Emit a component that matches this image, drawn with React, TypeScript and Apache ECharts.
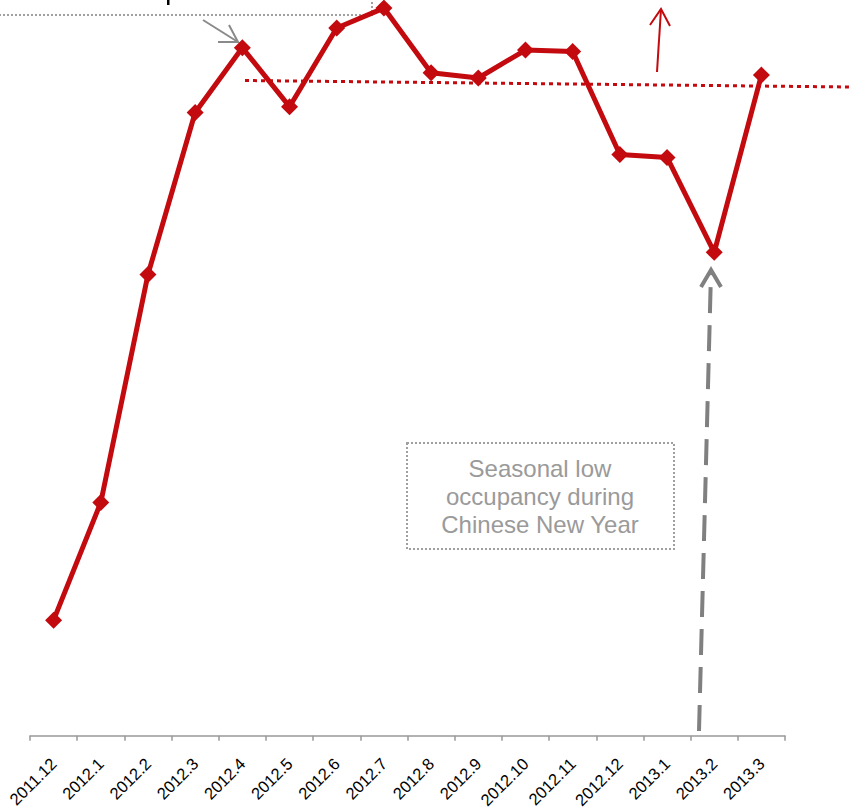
import React, { useEffect, useRef } from "react";
import * as echarts from "echarts";

const categories = [
  "2011.12", "2012.1", "2012.2", "2012.3", "2012.4", "2012.5", "2012.6", "2012.7",
  "2012.8", "2012.9", "2012.10", "2012.11", "2012.12", "2013.1", "2013.2", "2013.3",
];
const occupancy = [
  15.7, 31.7, 62.7, 84.7, 93.5, 85.5, 96.2, 98.9,
  90.1, 89.4, 93.2, 93.0, 79.0, 78.6, 65.7, 89.8,
];
const noteText = ["Seasonal low", "occupancy during", "Chinese New Year"];

const RED = "#C30A0F";
const GRAY = "#8a8a8a";

export default function App() {
  const ref = useRef<HTMLDivElement>(null);
  useEffect(() => {
    if (!ref.current) return;
    const chart = echarts.init(ref.current, null, { renderer: "svg" });
    chart.setOption({
      animation: false,
      grid: { left: 30, right: 64, top: 0, bottom: 73 },
      xAxis: {
        type: "category",
        data: categories,
        boundaryGap: true,
        axisLine: { lineStyle: { color: "#999", width: 1.5 } },
        axisTick: { show: true, length: 5, interval: 0, lineStyle: { color: "#999", width: 1.5 } },
        axisLabel: {
          rotate: 45,
          color: "#000",
          fontFamily: "Liberation Sans, Arial, sans-serif",
          fontSize: 16.5,
          margin: 25,
          interval: 0,
        },
      },
      yAxis: {
        type: "value",
        min: 0,
        max: 100,
        show: false,
        splitLine: { show: false },
      },
      series: [
        {
          type: "line",
          data: occupancy,
          symbol: "diamond",
          symbolSize: 17,
          lineStyle: { color: RED, width: 5 },
          itemStyle: { color: RED },
          z: 5,
        },
      ],
      graphic: [
        {
          type: "rect",
          shape: { x: -10, y: -100, width: 382, height: 115 },
          style: { fill: "none", stroke: "#a0a0a0", lineWidth: 2, lineDash: [2, 2] },
        },
        {
          type: "rect",
          shape: { x: 167, y: 0, width: 2.5, height: 5 },
          style: { fill: "#000" },
        },
        {
          type: "polyline",
          shape: { points: [[203, 20], [238, 42]] },
          style: { stroke: GRAY, lineWidth: 2, fill: "none" },
        },
        {
          type: "polyline",
          shape: { points: [[218, 42], [238, 42], [229, 25]] },
          style: { stroke: GRAY, lineWidth: 2, fill: "none" },
        },
        {
          type: "line",
          shape: { x1: 245, y1: 80.5, x2: 849, y2: 87 },
          style: { stroke: RED, lineWidth: 3, lineDash: [4, 4] },
        },
        {
          type: "line",
          shape: { x1: 657, y1: 72, x2: 661, y2: 9 },
          style: { stroke: RED, lineWidth: 2 },
        },
        {
          type: "polyline",
          shape: { points: [[650, 25], [661, 9], [670, 26]] },
          style: { stroke: RED, lineWidth: 2, fill: "none" },
        },
        {
          type: "line",
          shape: { x1: 699, y1: 731, x2: 711, y2: 272 },
          style: { stroke: "#808080", lineWidth: 4, lineDash: [26, 12] },
        },
        {
          type: "polyline",
          shape: { points: [[701, 287], [711, 270], [721, 287]] },
          style: { stroke: "#808080", lineWidth: 4, fill: "none" },
        },
        {
          type: "rect",
          shape: { x: 407, y: 443, width: 267, height: 106 },
          style: { fill: "#fff", stroke: "#a0a0a0", lineWidth: 2, lineDash: [2, 2] },
        },
        {
          type: "text",
          style: {
            text: noteText.join("\n"),
            x: 540,
            y: 496,
            textAlign: "center",
            textVerticalAlign: "middle",
            lineHeight: 28,
            font: "24px Liberation Sans, Arial, sans-serif",
            fill: "#9a9a9a",
          },
        },
      ],
    });
    return () => chart.dispose();
  }, []);
  return <div ref={ref} style={{ width: 849, height: 811, position: "absolute", left: 0, top: 0 }} />;
}
